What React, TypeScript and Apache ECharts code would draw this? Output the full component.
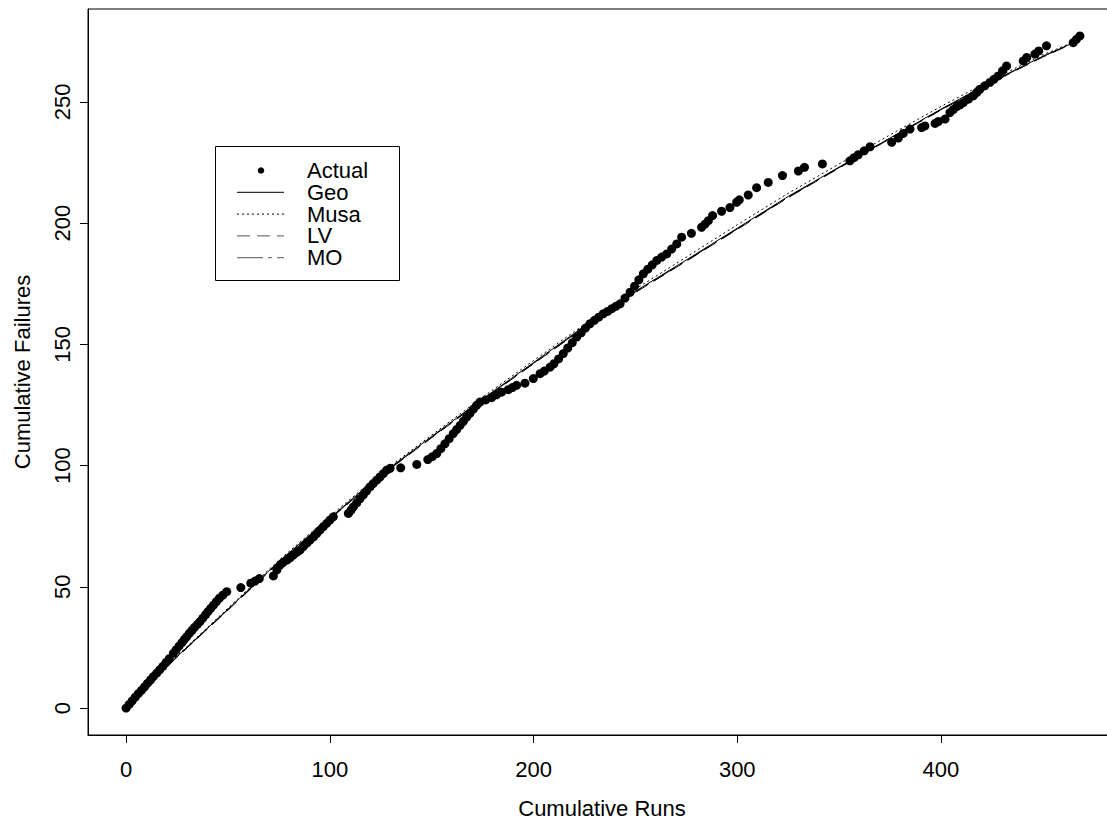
import { useEffect, useRef } from "react";
import * as echarts from "echarts";

const FONT = "'Liberation Sans', Arial, Helvetica, sans-serif";

const xTicks = [0, 100, 200, 300, 400];
const yTicks = [0, 50, 100, 150, 200, 250];
const xTitle = "Cumulative Runs";
const yTitle = "Cumulative Failures";
const legendNames = ["Actual", "Geo", "Musa", "LV", "MO"];

// Observed cumulative failures vs cumulative runs
const actualPoints: [number, number][] = [
  [0, 0], [1.5, 1.5], [3, 3], [4.5, 4.5], [6, 6], [7.5, 7.3], [9, 8.7], [10.5, 10.2],
  [12, 11.6], [13.4, 13], [15, 14.4], [16.5, 15.8], [18, 17.2], [19.6, 18.8], [21.2, 20.4],
  [23.2, 22.6], [24.5, 24], [26, 25.6], [27.4, 27], [28.6, 28.3], [29.8, 29.5], [31, 30.8],
  [32.3, 32], [33.6, 33.3], [35, 34.5], [36.3, 35.7], [37.6, 37.1], [39, 38.5], [40.2, 39.8],
  [41.5, 41.1], [42.9, 42.5], [44.3, 43.9], [45.8, 45.3], [47.5, 46.6], [49.4, 48],
  [56.3, 49.7], [61.2, 51.5], [63.3, 52.4], [65.4, 53.4],
  [72.3, 54.5], [74, 57], [75.6, 59], [77, 60], [78.9, 61], [80.5, 62], [82.1, 63.1],
  [83.7, 64.2], [85.4, 65.2], [87, 66.6], [88.7, 68], [90.3, 69.3], [92, 70.6], [93.6, 72],
  [95.2, 73.4], [96.8, 74.8], [98.5, 76.2], [100, 77.5], [101.7, 78.9],
  [109.1, 80.3], [110.4, 81.6], [111.6, 83], [113.2, 84.6], [114.8, 86.3], [116.4, 87.9],
  [118, 89.5], [119.7, 91.2], [121.3, 92.6], [123, 94], [124.6, 95.3], [126.3, 96.7],
  [127.9, 98.1], [129.6, 98.9],
  [134.8, 99.1], [142.7, 100.5], [148.1, 102.5], [150.3, 103.7], [152.5, 105], [154.5, 107],
  [156.5, 109], [158.6, 111.1], [160.6, 113.2], [162.3, 114.9], [164, 116.6], [165.6, 118.3],
  [167.2, 120], [168.8, 121.6], [170.5, 123.3], [172.1, 124.9], [173.7, 126.2],
  [176.5, 127.1], [179.4, 128], [181.8, 129.2], [184.3, 130.3], [187.6, 131.3], [189.6, 132.2],
  [191.7, 133.1], [195.8, 134], [199.9, 135.9], [203.2, 137.9], [205.3, 139], [208.1, 140.6],
  [210, 142], [212.3, 144], [214.6, 146.2], [216.8, 148.5], [219, 150.7], [221.2, 153],
  [223.4, 154.8], [225.5, 156.7], [227.7, 158.5], [229.9, 159.9], [232, 161.2], [234.2, 162.6],
  [236.3, 163.6], [238.4, 164.7], [240.4, 165.7], [242.5, 166.7], [244.9, 169.1], [247.4, 171.5],
  [249.6, 174], [251.7, 176.6], [253.9, 179.1], [256.1, 181], [258.3, 182.8], [260.5, 184.6],
  [262.9, 186], [265.4, 187.3], [267.8, 189.3], [270.3, 191.4], [272.7, 194.2],
  [277.5, 195.8], [282.5, 198.3], [284.2, 199.6], [285.8, 201], [287.9, 203.1], [292.3, 204.9],
  [296.4, 206.4], [299.7, 208.6], [301, 209.6], [305.4, 211.6], [309.5, 214.6], [315.2, 216.8],
  [322.2, 219.6], [330, 221.5], [333, 223], [341.8, 224.4],
  [355.3, 225.7], [357.3, 227], [359.4, 228.2], [362.3, 229.8], [365.2, 231.5],
  [375.8, 233.3], [379.1, 235.1], [381.5, 237], [384.8, 238.8], [390.5, 239.4], [392.1, 240.1],
  [397.1, 241.1], [398.7, 241.9], [402, 242.9], [404.4, 245.6], [406, 246.8], [407.7, 248],
  [409.4, 248.8], [411, 249.7], [413.5, 251.1], [415.9, 252.5], [417.5, 253.8], [419.1, 255.2],
  [421.5, 256.6], [424, 258], [426, 259.3], [428.1, 260.7], [430.2, 262.8], [432.2, 264.8],
  [440.4, 266.9], [442.1, 268.3], [446.1, 269.7], [448, 271], [451.8, 273.1],
  [464.9, 274.4], [466.5, 275.8], [468.2, 277.2],
];

// Model fits, read at these cumulative-run values
const modelRuns = [0, 25, 50, 75, 100, 125, 150, 175, 200, 225, 250, 275, 300, 325, 350, 375, 400, 425, 450, 468];
const geoFit = [0, 21.3, 40.8, 60.5, 78.4, 96.3, 112, 127.5, 142.5, 157.5, 171.9, 184.8, 197.9, 211, 223.1, 235.1, 247, 258.4, 268.8, 275.5];
const musaFit = [0, 21.5, 41.2, 61, 79, 96.8, 112.6, 128.2, 143.3, 158.2, 172.8, 186, 199.3, 212.3, 224.4, 236.4, 248.1, 259.2, 269.4, 275.7];
const lvFit = [0, 21, 40.4, 60, 77.9, 95.8, 111.5, 127, 142, 156.9, 171.4, 184.3, 197.4, 210.5, 222.7, 234.8, 246.6, 258, 268.5, 275.3];
const moFit = [0, 21.1, 40.6, 60.2, 78.1, 96, 111.7, 127.2, 142.2, 157.1, 171.6, 184.5, 197.6, 210.7, 222.9, 235, 246.8, 258.2, 268.7, 275.4];

const pairs = (ys: number[]) => modelRuns.map((x, i) => [x, ys[i]]);

export default function App() {
  const ref = useRef<HTMLDivElement>(null);
  useEffect(() => {
    document.body.style.margin = "0";
    document.body.style.overflow = "hidden";
    const chart = echarts.init(ref.current!, null, { renderer: "svg" });

    const lineSeries = (name: string, ys: number[], type: any) => ({
      name,
      type: "line",
      data: pairs(ys),
      showSymbol: false,
      symbol: "none",
      smooth: false,
      lineStyle: { color: "#000", width: 1, type },
      z: 3,
    });

    const legendX0 = 237, legendX1 = 284, rowY0 = 170.5, rowGap = 21.8;
    const dashes: any[] = [null, null, [2, 3], [13, 7], [26, 5, 4, 5]];
    const legendChildren: any[] = [
      {
        type: "rect",
        shape: { x: 215.5, y: 146.5, width: 184, height: 134 },
        style: { fill: "#fff", stroke: "#000", lineWidth: 1 },
      },
    ];
    legendNames.forEach((n, i) => {
      const y = rowY0 + i * rowGap;
      if (i === 0) {
        legendChildren.push({ type: "circle", shape: { cx: 261, cy: y, r: 3.3 }, style: { fill: "#000" } });
      } else {
        legendChildren.push({
          type: "line",
          shape: { x1: legendX0, y1: y, x2: legendX1, y2: y },
          style: { stroke: i >= 3 ? "#555" : "#000", lineWidth: 1, lineDash: dashes[i] },
        });
      }
      legendChildren.push({
        type: "text",
        x: 307,
        y,
        style: {
          text: n,
          font: `22px ${FONT}`,
          lineHeight: 20,
          fill: "#000",
          textAlign: "left",
          textVerticalAlign: "middle",
        },
      });
    });

    chart.setOption({
      animation: false,
      backgroundColor: "#fff",
      grid: { left: 88, top: 9, width: 1030, height: 726, show: true, borderColor: "#000", borderWidth: 1, containLabel: false },
      xAxis: {
        type: "value",
        min: -18.7,
        max: 486.9,
        axisLine: { show: true, onZero: false, lineStyle: { color: "#000", width: 1 } },
        axisTick: { show: true, customValues: xTicks, length: 8, lineStyle: { color: "#000" } },
        axisLabel: { customValues: xTicks, fontSize: 22, lineHeight: 22, fontFamily: FONT, color: "#000", margin: 23 },
        splitLine: { show: false },
      },
      yAxis: {
        type: "value",
        min: -11.09,
        max: 288.3,
        axisLine: { show: true, onZero: false, lineStyle: { color: "#000", width: 1 } },
        axisTick: { show: true, customValues: yTicks, length: 8, lineStyle: { color: "#000" } },
        axisLabel: { customValues: yTicks, rotate: 90, fontSize: 22, lineHeight: 22, fontFamily: FONT, color: "#000", margin: 15 },
        splitLine: { show: false },
      },
      series: [
        {
          name: "Actual",
          type: "scatter",
          data: actualPoints,
          symbol: "circle",
          symbolSize: 9,
          itemStyle: { color: "#000", opacity: 1 },
          z: 2,
        },
        lineSeries("Geo", geoFit, "solid"),
        lineSeries("Musa", musaFit, [2, 3]),
        lineSeries("LV", lvFit, [13, 7]),
        lineSeries("MO", moFit, [26, 5, 4, 5]),
      ],
      graphic: [
        {
          type: "text",
          x: 602,
          y: 808.5,
          style: { text: xTitle, font: `22px ${FONT}`, fill: "#000", textAlign: "center", textVerticalAlign: "middle" },
        },
        {
          type: "text",
          x: 22,
          y: 372,
          rotation: Math.PI / 2,
          style: { text: yTitle, font: `22px ${FONT}`, fill: "#000", textAlign: "center", textVerticalAlign: "middle" },
        },
        { type: "group", z: 100, children: legendChildren },
      ],
    });
    return () => chart.dispose();
  }, []);
  return <div ref={ref} style={{ width: 1125, height: 821 }} />;
}
